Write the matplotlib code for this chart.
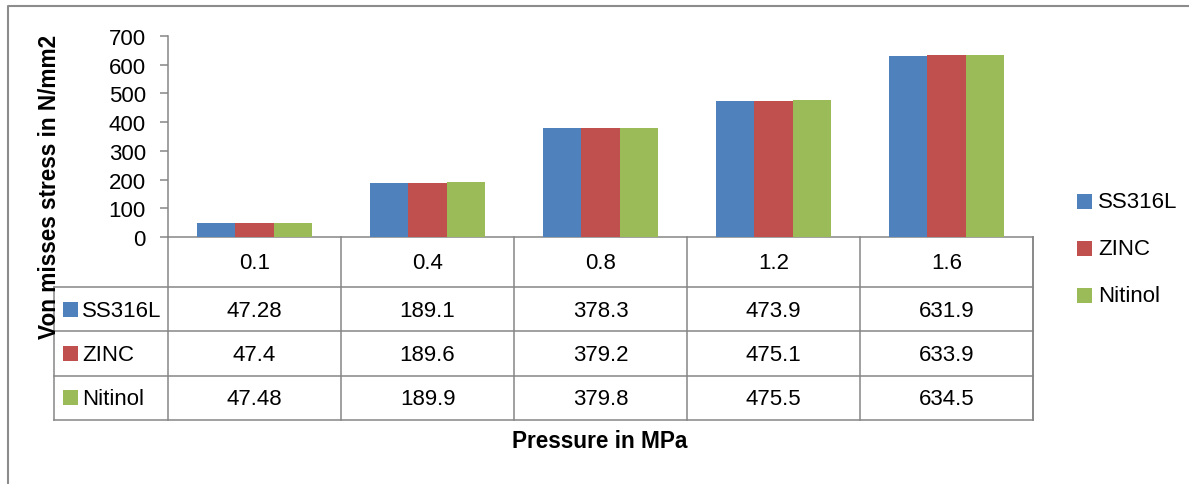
import numpy as np
import matplotlib
matplotlib.use("Agg")
import matplotlib.pyplot as plt
from matplotlib.patches import Rectangle

plt.rcParams['font.family'] = ['Liberation Sans', 'DejaVu Sans']

# data
pressure = ["0.1", "0.4", "0.8", "1.2", "1.6"]
ss316l = [47.28, 189.1, 378.3, 473.9, 631.9]
zinc = [47.4, 189.6, 379.2, 475.1, 633.9]
nitinol = [47.48, 189.9, 379.8, 475.5, 634.5]
series_names = ["SS316L", "ZINC", "Nitinol"]
series_vals = [ss316l, zinc, nitinol]
colors = ["#4F81BD", "#C0504D", "#9BBB59"]
yticks = [0, 100, 200, 300, 400, 500, 600, 700]

# layout in pixels
W, H = 1189, 485
left, right = 168, 1033
top, base = 37, 238
tab_left = 54
head_bot = 288
tab_bot = 421
grey = "#868686"
fs = 16

fig = plt.figure(figsize=(W / 100, H / 100), dpi=100)

# overlay axes in pixel coordinates for table, legend, frame
ov = fig.add_axes([0, 0, 1, 1])
ov.set_xlim(0, W)
ov.set_ylim(H, 0)
ov.axis("off")

# bars
ax = fig.add_axes([left / W, 1 - base / H, (right - left) / W, (base - top) / H])
n = len(pressure)
x = np.arange(n)
bw = 0.223
for k, (name, vals) in enumerate(zip(series_names, series_vals)):
    ax.bar(x + (k - 1) * bw, vals, bw, color=colors[k], linewidth=0, label=name)
ax.set_xlim(-0.5, n - 0.5)
ax.set_ylim(0, 700)
ax.set_yticks(yticks)
ax.set_xticks([])
ax.tick_params(axis="y", direction="out", length=6, width=1.1, color=grey,
               labelsize=fs, pad=10)
for s in ["top", "right", "bottom"]:
    ax.spines[s].set_visible(False)
ax.spines["left"].set_color(grey)
ax.spines["left"].set_linewidth(1.1)
ax.patch.set_alpha(0)

# table
cw = (right - left) / n
rh = (tab_bot - head_bot) / 3
lw = 1.1
ov.plot([left, right], [base, base], color=grey, lw=lw)
ov.plot([right, right], [base, tab_bot], color=grey, lw=lw)
for i in range(n + 1):
    xe = left + i * cw
    ov.plot([xe, xe], [base, tab_bot], color=grey, lw=lw)
for r in range(4):
    ye = head_bot + r * rh
    ov.plot([tab_left, right], [ye, ye], color=grey, lw=lw)
ov.plot([tab_left, tab_left], [head_bot, tab_bot], color=grey, lw=lw)

for i, p in enumerate(pressure):
    ov.text(left + (i + 0.5) * cw, (base + head_bot) / 2 + 1, p, ha="center",
            va="center", fontsize=fs)
for r, (name, vals) in enumerate(zip(series_names, series_vals)):
    yc = head_bot + (r + 0.5) * rh
    ov.add_patch(Rectangle((63, yc - 7.5), 15, 15, color=colors[r], lw=0))
    ov.text(82, yc + 1, name, ha="left", va="center", fontsize=fs)
    for i, v in enumerate(vals):
        ov.text(left + (i + 0.5) * cw, yc + 1, str(v), ha="center",
                va="center", fontsize=fs)

# legend
for r, name in enumerate(series_names):
    yc = 202 + r * 47
    ov.add_patch(Rectangle((1077, yc - 7.5), 15, 15, color=colors[r], lw=0))
    ov.text(1098, yc + 1, name, ha="left", va="center", fontsize=fs)

# axis titles
ov.text(50, 187, "Von misses stress in N/mm2", rotation=90, ha="center",
        va="center", fontsize=16.3, fontweight="bold")
ov.text(600, 442, "Pressure in MPa", ha="center", va="center",
        fontsize=16.3, fontweight="bold")

# chart frame
ov.plot([8, 8, W], [H, 7, 7], color="#8c8c8c", lw=1.5)

fig.savefig("out.png", dpi=100)
